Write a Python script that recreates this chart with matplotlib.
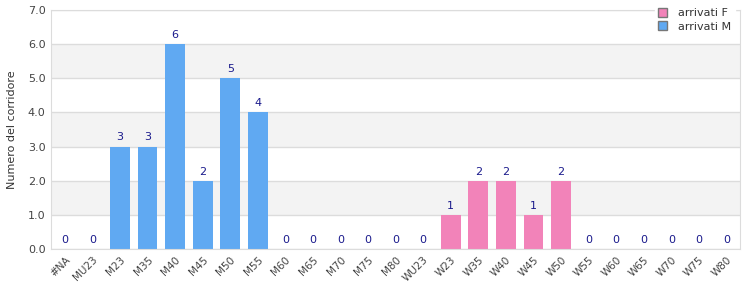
import numpy as np
import matplotlib.pyplot as plt

categories = ['#NA', 'MU23', 'M23', 'M35', 'M40', 'M45', 'M50', 'M55', 'M60',
              'M65', 'M70', 'M75', 'M80', 'WU23', 'W23', 'W35', 'W40', 'W45',
              'W50', 'W55', 'W60', 'W65', 'W70', 'W75', 'W80']
arrivati_m = [0, 0, 3, 3, 6, 2, 5, 4, 0, 0, 0, 0, 0, 0,
              0, 0, 0, 0, 0, 0, 0, 0, 0, 0, 0]
arrivati_f = [0, 0, 0, 0, 0, 0, 0, 0, 0, 0, 0, 0, 0, 0,
              1, 2, 2, 1, 2, 0, 0, 0, 0, 0, 0]
y_ticks = [0, 1, 2, 3, 4, 5, 6, 7]

blue = '#60a9f2'
pink = '#f283b9'
grid_col = '#dcdcdc'

fig = plt.figure(figsize=(7.5, 3), dpi=100)
ax = fig.add_axes([0.068, 0.17, 0.919, 0.797])

x = np.arange(len(categories))
m = np.array(arrivati_m)
f = np.array(arrivati_f)

# alternating background bands
for lo in (1, 3, 5):
    ax.axhspan(lo, lo + 1, color='#f3f3f3', zorder=0, lw=0)
for t in y_ticks:
    ax.axhline(t, color=grid_col, lw=1, zorder=1)

ax.bar(x, m, width=0.72, color=blue, zorder=2, label='arrivati M')
ax.bar(x, f, width=0.72, bottom=m, color=pink, zorder=2, label='arrivati F')

for xi, tot in zip(x, m + f):
    ax.text(xi, tot + 0.12, str(tot), ha='center', va='bottom',
            fontsize=8, color='#1a1a8c', zorder=3)

ax.set_xlim(-0.5, len(categories) - 0.5)
ax.set_ylim(0, 7)
ax.set_yticks(y_ticks)
ax.set_yticklabels([f'{t:.1f}' for t in y_ticks], fontsize=8, color='#444444')
ax.set_xticks(x)
ax.set_xticklabels(categories, rotation=45, ha='right', rotation_mode='anchor',
                   fontsize=7.5, color='#444444')
ax.tick_params(length=0, pad=4)
ax.set_ylabel('Numero del corridore', fontsize=8, color='#333333', labelpad=8)

for s in ax.spines.values():
    s.set_color(grid_col)

handles, labels = ax.get_legend_handles_labels()
leg = ax.legend(handles[::-1], labels[::-1], loc='upper right',
                bbox_to_anchor=(1.0, 1.045), fontsize=8, frameon=True,
                handlelength=0.8, handleheight=0.8, borderpad=0.3,
                labelspacing=0.3, handletextpad=1.0, fancybox=False)
leg.get_frame().set_edgecolor('white')
leg.get_frame().set_alpha(1)
for h in leg.legend_handles:
    h.set_edgecolor('#777777')
    h.set_linewidth(1)
for t in leg.get_texts():
    t.set_color('#333333')

fig.savefig('out.png', dpi=100)
